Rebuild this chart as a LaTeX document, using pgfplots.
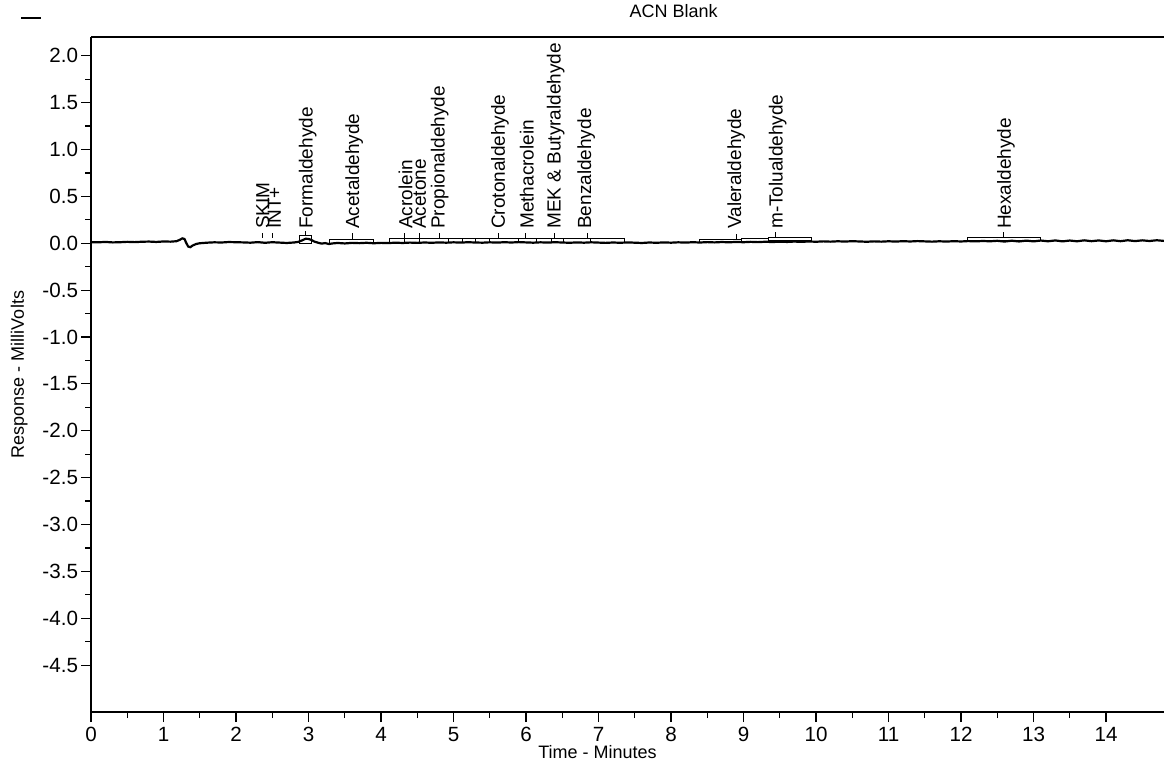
\documentclass[border=0pt]{standalone}
\usepackage{fontspec}
\setmainfont{Liberation Sans}
\usepackage{pgfplots}
\pgfplotsset{compat=1.18}
\pgfplotstableread{
t y
0.00 0.012
0.10 0.010
0.20 0.014
0.30 0.009
0.40 0.011
0.50 0.015
0.60 0.012
0.70 0.016
0.80 0.018
0.90 0.014
1.00 0.019
1.10 0.017
1.18 0.022
1.22 0.035
1.26 0.052
1.29 0.045
1.31 0.010
1.34 -0.035
1.37 -0.042
1.40 -0.025
1.45 -0.008
1.50 0.000
1.60 0.006
1.70 0.010
1.80 0.008
1.90 0.013
2.00 0.011
2.10 0.009
2.20 0.006
2.30 0.012
2.40 0.005
2.50 0.011
2.60 0.007
2.70 0.003
2.80 0.008
2.86 0.015
2.91 0.030
2.96 0.048
3.00 0.046
3.04 0.035
3.08 0.018
3.13 0.006
3.18 -0.004
3.23 0.002
3.28 -0.008
3.33 -0.002
3.40 0.003
3.50 -0.002
3.60 0.004
3.70 0.001
3.80 0.005
3.90 0.000
4.00 0.004
4.10 0.002
4.20 0.006
4.30 0.003
4.40 0.007
4.50 0.004
4.60 0.008
4.70 0.005
4.80 0.009
4.90 0.006
5.00 0.010
5.10 0.007
5.20 0.011
5.30 0.008
5.40 0.006
5.50 0.010
5.60 0.007
5.70 0.011
5.80 0.008
5.90 0.012
6.00 0.009
6.10 0.006
6.20 0.010
6.30 0.007
6.40 0.011
6.50 0.008
6.60 0.005
6.70 0.009
6.80 0.006
6.90 0.010
7.00 0.007
7.10 0.004
7.20 0.008
7.30 0.005
7.40 0.009
7.50 0.006
7.60 0.003
7.70 0.008
7.80 0.005
7.90 0.009
8.00 0.006
8.10 0.010
8.20 0.007
8.30 0.011
8.40 0.008
8.50 0.012
8.60 0.009
8.70 0.013
8.80 0.010
8.90 0.014
9.00 0.011
9.10 0.015
9.20 0.012
9.30 0.016
9.40 0.013
9.50 0.017
9.60 0.014
9.70 0.018
9.80 0.015
9.90 0.019
10.00 0.016
10.10 0.020
10.20 0.017
10.30 0.021
10.40 0.018
10.50 0.022
10.60 0.019
10.70 0.016
10.80 0.020
10.90 0.017
11.00 0.021
11.10 0.018
11.20 0.022
11.30 0.019
11.40 0.023
11.50 0.020
11.60 0.017
11.70 0.021
11.80 0.018
11.90 0.022
12.00 0.019
12.10 0.023
12.20 0.020
12.30 0.024
12.40 0.021
12.50 0.026
12.60 0.018
12.70 0.027
12.80 0.019
12.90 0.028
13.00 0.020
13.10 0.029
13.20 0.021
13.30 0.030
13.40 0.020
13.50 0.029
13.60 0.021
13.70 0.031
13.80 0.022
13.90 0.030
14.00 0.021
14.10 0.031
14.20 0.022
14.30 0.032
14.40 0.023
14.50 0.031
14.60 0.024
14.70 0.032
14.80 0.025
}\trace
\newcommand{\lbl}{\fontsize{9.5bp}{11bp}\selectfont}
% integration window box: x1 x2 ybottom ytop
\newcommand{\pbox}[4]{\addplot[black, line width=0.5bp] coordinates {(#1,#3) (#1,#4) (#2,#4) (#2,#3) (#1,#3)};}
% peak tick: x ybottom ytop
\newcommand{\ptick}[3]{\addplot[black, line width=0.5bp] coordinates {(#1,#2) (#1,#3)};}
\newcommand{\plabel}[2]{\node[rotate=90, anchor=west, inner sep=0pt, font=\lbl] at (axis cs:#1,0.15) {#2};}
\begin{document}
\begin{tikzpicture}[x=1bp,y=1bp]
\path[use as bounding box] (0,0) rectangle (582,382);
\draw[black, line width=0.7bp] (10.5,373) -- (20.5,373);
\begin{axis}[
  at={(45.5bp,26bp)}, anchor=south west,
  scale only axis, width=536.5bp, height=337.5bp,
  xmin=0, xmax=14.8, ymin=-5.0, ymax=2.2,
  axis x line*=box, axis y line*=left,
  axis line style={line width=0.9bp},
  xtick={0,1,2,3,4,5,6,7,8,9,10,11,12,13,14},
  minor x tick num=1,
  ytick={-4.5,-4.0,-3.5,-3.0,-2.5,-2.0,-1.5,-1.0,-0.5,0.0,0.5,1.0,1.5,2.0},
  yticklabels={-4.5,-4.0,-3.5,-3.0,-2.5,-2.0,-1.5,-1.0,-0.5,0.0,0.5,1.0,1.5,2.0},
  minor y tick num=1,
  xtick pos=bottom, ytick pos=left,
  tick align=outside,
  major tick length=5bp, minor tick length=3bp,
  tick style={black, line width=0.6bp},
  /pgf/number format/assume math mode=true,
  tick label style={font=\fontsize{10.3bp}{12bp}\selectfont},
  xticklabel style={yshift=1bp},
  yticklabel style={xshift=2bp},
  xlabel={Time - Minutes},
  ylabel={Response - MilliVolts},
  every axis x label/.style={at={(axis description cs:0.472,-0.059)}, anchor=center, font=\fontsize{9bp}{11bp}\selectfont},
  every axis y label/.style={at={(axis description cs:-0.067,0.5)}, rotate=90, anchor=center, font=\fontsize{9bp}{11bp}\selectfont},
  title={ACN Blank},
  every axis title/.style={at={(axis description cs:0.543,1.0385)}, anchor=center, font=\fontsize{9bp}{11bp}\selectfont},
  clip=false,
]
\addplot[black, line width=1.1bp] table[x=t, y=y] {\trace};
% integration windows
\pbox{2.87}{3.04}{0.0}{0.085}
\pbox{3.29}{3.90}{0.0}{0.045}
\pbox{4.12}{4.33}{0.005}{0.05}
\pbox{4.33}{4.53}{0.005}{0.05}
\pbox{4.53}{4.93}{0.005}{0.05}
\pbox{4.93}{5.12}{0.005}{0.05}
\pbox{5.12}{5.30}{0.005}{0.05}
\pbox{5.30}{5.50}{0.005}{0.05}
\pbox{5.50}{5.90}{0.005}{0.05}
\pbox{5.90}{6.14}{0.005}{0.05}
\pbox{6.14}{6.35}{0.005}{0.05}
\pbox{6.35}{6.52}{0.005}{0.05}
\pbox{6.52}{6.89}{0.005}{0.05}
\pbox{6.89}{7.36}{0.005}{0.05}
\pbox{8.39}{8.97}{0.01}{0.045}
\pbox{8.97}{9.35}{0.02}{0.055}
\pbox{9.35}{9.94}{0.025}{0.065}
\pbox{12.09}{13.10}{0.03}{0.065}
% peak ticks
\ptick{2.36}{0.06}{0.11}
\ptick{2.51}{0.06}{0.11}
\ptick{2.96}{0.085}{0.13}
\ptick{3.61}{0.045}{0.11}
\ptick{4.33}{0.05}{0.11}
\ptick{4.53}{0.05}{0.11}
\ptick{4.81}{0.05}{0.11}
\ptick{5.62}{0.05}{0.11}
\ptick{5.99}{0.05}{0.11}
\ptick{6.39}{0.05}{0.11}
\ptick{6.85}{0.05}{0.11}
\ptick{8.90}{0.045}{0.10}
\ptick{9.44}{0.065}{0.12}
\ptick{12.59}{0.065}{0.12}
% labels
\plabel{2.37}{SKIM}
\plabel{2.53}{INT+}
\plabel{2.99}{Formaldehyde}
\plabel{3.63}{Acetaldehyde}
\plabel{4.34}{Acrolein}
\plabel{4.53}{Acetone}
\plabel{4.81}{Propionaldehyde}
\plabel{5.64}{Crotonaldehyde}
\plabel{6.01}{Methacrolein}
\plabel{6.41}{MEK \& Butyraldehyde}
\plabel{6.83}{Benzaldehyde}
\plabel{8.90}{Valeraldehyde}
\plabel{9.47}{m-Tolualdehyde}
\plabel{12.62}{Hexaldehyde}
\end{axis}
\end{tikzpicture}
\end{document}
